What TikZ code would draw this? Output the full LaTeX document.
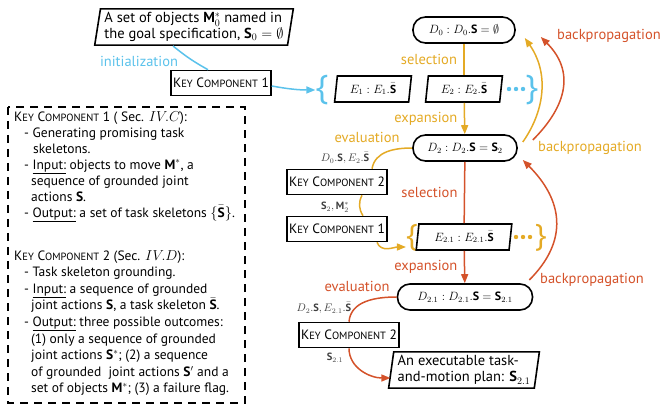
\documentclass[tikz,border=0pt]{standalone}
\usepackage{fontspec}
\setmainfont{PT Sans}
\newfontfamily\bracefont{Open Sans}
\usetikzlibrary{shapes.geometric,arrows.meta}
\definecolor{cyanc}{RGB}{91,194,235}
\definecolor{yellowc}{RGB}{228,170,37}
\definecolor{redc}{RGB}{212,82,42}
\newcommand{\kc}[1]{K{\fontsize{10.5}{12}\selectfont EY} C{\fontsize{10.5}{12}\selectfont OMPONENT} #1}

\begin{document}
\begin{tikzpicture}[x=1pt,y=1pt,
    font=\fontsize{14.5}{16.3}\selectfont,
    kcbox/.style={draw, line width=1.6pt, minimum width=98, minimum height=25, inner sep=2pt, font=\fontsize{13.5}{15}\selectfont},
    dnode/.style={draw, line width=1.6pt, rounded corners=12.5pt, minimum height=26, inner xsep=4pt, font=\fontsize{12}{14}\selectfont},
    enode/.style={draw, line width=1.6pt, trapezium, trapezium left angle=84, trapezium right angle=96, minimum height=26, inner xsep=2pt, font=\fontsize{11.5}{14}\selectfont},
    slantbox/.style={draw, line width=1.6pt, trapezium, trapezium left angle=81, trapezium right angle=99, align=left, inner xsep=4pt},
    notes/.style={anchor=north west, align=left, inner sep=0pt, font=\fontsize{13.5}{16.6}\selectfont},
    sublbl/.style={text=black!75, inner sep=1pt, font=\fontsize{10.5}{12}\selectfont},
    bracenode/.style={font=\bracefont\fontsize{34}{34}\selectfont, inner sep=0pt},
    flow/.style={line width=1.5pt},
    arrowtip/.style={-{Triangle[length=9pt,width=7pt]}},
  ]
  \useasboundingbox (0,0) rectangle (660,-411);

  % goal and first key component
  \node[slantbox] (goal) at (194,-27) {A set of objects $\mathbf{M}_0^*$ named in\\the goal specification, $\mathbf{S}_0=\emptyset$};
  \node[kcbox] (kc1) at (221,-83) {\kc{1}};
  \node[cyanc] (init) at (139,-61) {initialization};

  % tree, first level
  \node[dnode, minimum width=102] (d0) at (464,-30) {$D_0 : D_0.\mathbf{S} = \emptyset$};
  \node[bracenode, cyanc] (bra) at (322,-90) {\{};
  \node[enode] (e1) at (373,-89) {$E_1 : E_1.\bar{\mathbf{S}}$};
  \node[enode] (e2) at (464,-89) {$E_2 : E_2.\bar{\mathbf{S}}$};
  \node[bracenode, cyanc] (brb) at (532,-90) {\}};
  \foreach \x in {509,516,523} \fill[cyanc] (\x,-89) circle (2.2pt);

  % tree, second level
  \node[dnode, minimum width=104] (d2) at (465,-148) {$D_2 : D_2.\mathbf{S} = \mathbf{S}_2$};
  \node[kcbox] (kc2) at (337,-182) {\kc{2}};
  \node[kcbox] (kc3) at (337,-229) {\kc{1}};
  \node[bracenode, yellowc, font=\bracefont\fontsize{31}{31}\selectfont] (brc) at (412,-238) {\{};
  \node[enode] (e21) at (464,-237) {$E_{2.1} : E_{2.1}.\bar{\mathbf{S}}$};
  \node[bracenode, yellowc, font=\bracefont\fontsize{31}{31}\selectfont] (brd) at (541,-238) {\}};
  \foreach \x in {516,523,530} \fill[yellowc] (\x,-237) circle (2.2pt);

  % tree, third level
  \node[dnode, minimum width=135] (d21) at (465,-297) {$D_{2.1} : D_{2.1}.\mathbf{S} = \mathbf{S}_{2.1}$};
  \node[kcbox] (kc4) at (349,-335) {\kc{2}};
  \node[slantbox, trapezium left angle=82, trapezium right angle=98] (plan) at (464,-370) {An executable task-\\and-motion plan: $\mathbf{S}_{2.1}$};

  % initialization
  \draw[cyanc, flow] ([xshift=-21pt]goal.south) to[bend right=5] ([xshift=-13pt]kc1.north);
  \draw[cyanc, flow, arrowtip] ([yshift=-3pt]kc1.east) to[bend right=5] (bra.west);

  % selection / expansion
  \draw[yellowc, flow] (d0) -- node[left=3pt]{selection} (e2);
  \draw[yellowc, flow, arrowtip] (e2) -- node[left=3pt]{expansion} (d2);
  \draw[redc, flow] (d2) -- node[left=3pt]{selection} (e21);
  \draw[redc, flow, arrowtip] (e21) -- node[left=3pt]{expansion} (d21);

  % evaluation
  \draw[yellowc, flow] (d2.west) to[out=180, in=80] ([xshift=35pt]kc2.north);
  \draw[yellowc, flow] ([xshift=25pt]kc2.south) to[bend right=30] ([xshift=26pt]kc3.north);
  \draw[yellowc, flow, arrowtip] ([xshift=40pt]kc3.south) to[out=-70, in=180] ([yshift=-9pt]brc.west);
  \draw[redc, flow] (d21.west) to[out=180, in=85] (kc4.north);
  \draw[redc, flow, arrowtip] (kc4.south) to[out=-90, in=180] ([yshift=-8pt]plan.west);
  \node[yellowc] (evala) at (367,-137) {evaluation};
  \node[redc] (evalb) at (357,-286) {evaluation};
  \node[sublbl] (ina) at (345,-158) {$D_0.\mathbf{S}, E_2.\bar{\mathbf{S}}$};
  \node[sublbl] (outa) at (335,-207) {$\mathbf{S}_2, \mathbf{M}_2^*$};
  \node[sublbl] (inb) at (324,-308) {$D_2.\mathbf{S}, E_{2.1}.\bar{\mathbf{S}}$};
  \node[sublbl] (outb) at (335,-358) {$\mathbf{S}_{2.1}$};

  % backpropagation
  \draw[yellowc, flow, arrowtip] ([xshift=5pt,yshift=6pt]d2.east) to[out=55, in=-55] ([xshift=9pt,yshift=-8pt]d0.east);
  \draw[redc, flow, arrowtip] ([xshift=15pt,yshift=8pt]d2.east) to[out=45, in=-45, looseness=1.2] ([xshift=25pt,yshift=-7pt]d0.east);
  \draw[redc, flow, arrowtip] ([xshift=-4pt,yshift=17pt]d21.east) to[out=45, in=-45, looseness=1.2] ([xshift=5pt,yshift=-12pt]d2.east);
  \node[yellowc] (bpa) at (590,-148) {backpropagation};
  \node[redc] (bpb) at (609,-36) {backpropagation};
  \node[redc] (bpc) at (592,-280) {backpropagation};

  % key component notes
  \draw[line width=1.8pt, dash pattern=on 8pt off 6pt] (8,-107) rectangle (245,-403);
  \node[notes, font=\fontsize{13.5}{16}\selectfont] (notea) at (14,-111) {\kc{1} ( Sec. $IV.C$):\\
    \hspace*{10pt}- Generating promising task\\
    \hspace*{19pt}skeletons.\\
    \hspace*{10pt}- \underline{Input:} objects to move $\mathbf{M}^*$, a\\
    \hspace*{17pt}sequence of grounded joint\\
    \hspace*{17pt}actions $\mathbf{S}$.\\
    \hspace*{10pt}- \underline{Output:} a set of task skeletons $\{\bar{\mathbf{S}}\}$.};
  \node[notes] (noteb) at (14,-250) {\kc{2} (Sec. $IV.D$):\\
    \hspace*{10pt}- Task skeleton grounding.\\
    \hspace*{10pt}- \underline{Input:} a sequence of grounded\\
    \hspace*{17pt}joint actions $\mathbf{S}$, a task skeleton $\bar{\mathbf{S}}$.\\
    \hspace*{10pt}- \underline{Output:} three possible outcomes:\\
    \hspace*{17pt}(1) only a sequence of grounded\\
    \hspace*{17pt}joint actions $\mathbf{S}^*$; (2) a sequence\\
    \hspace*{17pt}of grounded\ \ joint actions $\mathbf{S}'$ and a\\
    \hspace*{17pt}set of objects $\mathbf{M}^*$; (3) a failure flag.};
\end{tikzpicture}
\end{document}
